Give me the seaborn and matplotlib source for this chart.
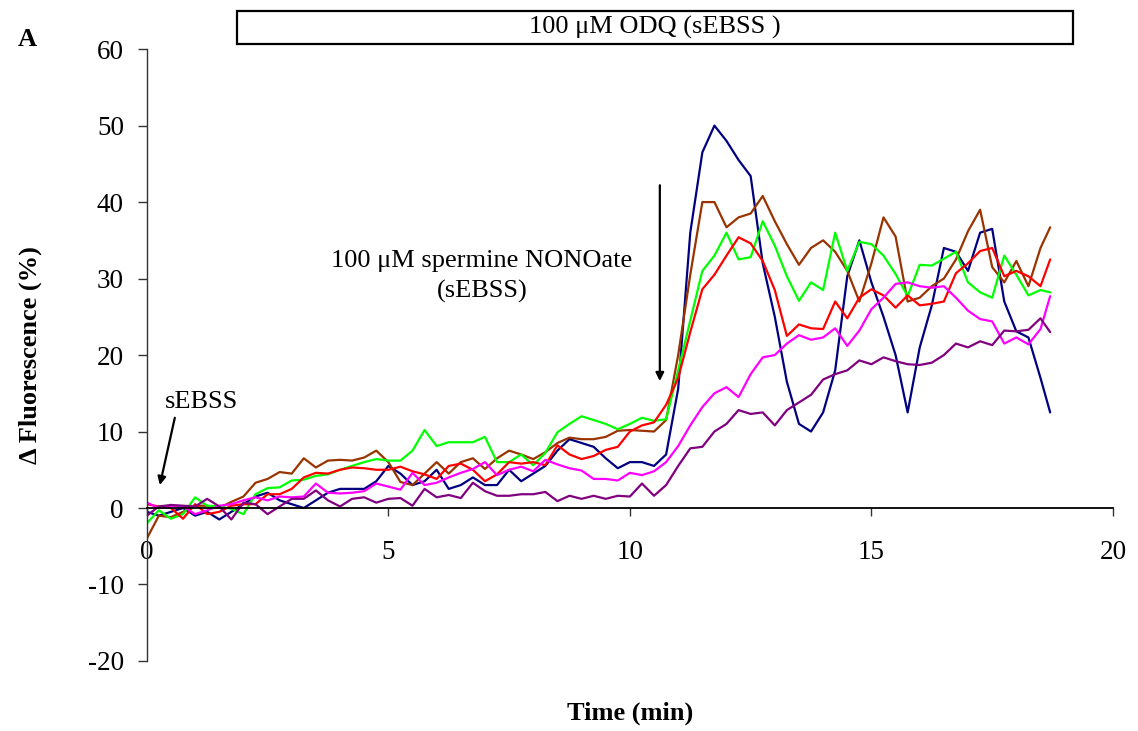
import numpy as np
import pandas as pd
import matplotlib
matplotlib.use("Agg")
import matplotlib.pyplot as plt
from matplotlib.patches import Rectangle
import seaborn as sns

# ---- data ----
time_min = np.append(np.arange(0, 18.51, 0.25), 18.7)

navy = [-0.5, -1, -0.5, 0, -1, -0.5, -1.5, -0.5, 0.5, 1.5,
        2, 1, 0.5, 0, 1, 2, 2.5, 2.5, 2.5, 3.5,
        5.5, 4.5, 3, 3.5, 5, 2.5, 3, 4, 3, 3,
        5, 3.5, 4.5, 5.5, 7.5, 9, 8.5, 8, 6.5, 5.2,
        6, 6, 5.5, 7, 15.6, 36, 46.5, 50, 48, 45.5,
        43.4, 32, 25, 16.5, 11, 10, 12.5, 18, 30.3, 35,
        29.5, 25, 20, 12.5, 21, 26.5, 34, 33.5, 31, 36,
        36.5, 27, 23.1, 22.3, 17, 12.5]
brown = [-4, -1, -1.2, -0.5, 0.3, 0.3, 0, 0.8, 1.5, 3.3,
         3.8, 4.7, 4.5, 6.5, 5.3, 6.2, 6.3, 6.2, 6.6, 7.5,
         6, 3.4, 3, 4.5, 6, 4.5, 6, 6.5, 5.1, 6.5,
         7.5, 7, 6.4, 7.3, 8.5, 9.2, 9, 9, 9.3, 10.1,
         10.2, 10.1, 10, 11.5, 20, 30.5, 40, 40, 36.7, 38,
         38.5, 40.8, 37.5, 34.5, 31.8, 34, 35, 33.5, 31, 27,
         32, 38, 35.5, 27, 27.5, 29, 30, 32.5, 36.2, 39,
         31.5, 29.5, 32.3, 29, 34, 36.7]
green = [-2, -0.3, -1.4, -0.8, 1.4, 0.3, 0.2, -0.1, -0.8, 1.8,
         2.6, 2.7, 3.6, 3.7, 4.2, 4.4, 5, 5.5, 6, 6.4,
         6.2, 6.2, 7.5, 10.2, 8.1, 8.6, 8.6, 8.6, 9.3, 6,
         6, 7, 5.6, 7.2, 9.9, 11, 12, 11.5, 11, 10.3,
         11, 11.8, 11.4, 11.6, 18, 24.5, 31, 33, 36, 32.5,
         32.8, 37.5, 34.3, 30.3, 27.1, 29.5, 28.5, 36, 31, 34.8,
         34.5, 33, 30.6, 27.7, 31.8, 31.7, 32.6, 33.5, 29.5, 28.2,
         27.5, 33, 30.5, 27.8, 28.5, 28.2]
red = [0.5, 0.2, 0, -1.4, 0.5, -0.8, -0.5, 0.3, 0.5, 0.5,
       1.8, 1.8, 2.5, 4, 4.6, 4.5, 5, 5.3, 5.2, 5,
       5, 5.4, 4.8, 4.4, 3.8, 5.5, 5.8, 5, 3.5, 4.4,
       6, 5.8, 6, 5.6, 8.2, 7, 6.4, 6.8, 7.6, 8,
       10, 10.8, 11.2, 13.5, 17, 23, 28.6, 30.5, 33, 35.4,
       34.6, 32.3, 28.5, 22.5, 24, 23.5, 23.4, 27, 24.8, 27.5,
       28.6, 27.8, 26.2, 27.8, 26.5, 26.7, 27, 30.7, 32, 33.6,
       34, 30.3, 31, 30.3, 29, 32.5]
magenta = [0.7, 0, 0.3, 0.2, -0.8, -0.3, 0.3, 0.5, 1, 1.4,
           1, 1.5, 1.4, 1.5, 3.2, 2, 1.9, 2, 2.2, 3.2,
           2.8, 2.4, 4.6, 3, 3.3, 4, 4.6, 5.1, 6.0, 4.3,
           5, 5.4, 4.8, 6.3, 5.7, 5.2, 4.9, 3.8, 3.8, 3.6,
           4.6, 4.3, 4.8, 6, 8.1, 10.8, 13.2, 15, 15.8, 14.5,
           17.5, 19.7, 20, 21.5, 22.6, 22, 22.3, 23.5, 21.2, 23.2,
           26, 27.5, 29.3, 29.5, 29, 28.8, 29, 27.5, 25.8, 24.7,
           24.4, 21.5, 22.3, 21.4, 23.4, 27.7]
purple = [-1, 0.2, 0.4, 0.3, 0.2, 1.2, 0.2, -1.5, 0.7, 0.5,
          -0.8, 0.2, 1.2, 1.2, 2.3, 1, 0.2, 1.2, 1.4, 0.7,
          1.2, 1.3, 0.3, 2.5, 1.4, 1.7, 1.3, 3.3, 2.2, 1.6,
          1.6, 1.8, 1.8, 2.1, 0.9, 1.6, 1.2, 1.6, 1.2, 1.6,
          1.5, 3.2, 1.6, 3, 5.5, 7.8, 8, 10, 11, 12.8,
          12.3, 12.5, 10.8, 12.8, 13.8, 14.8, 16.8, 17.5, 18, 19.3,
          18.8, 19.7, 19.2, 18.8, 18.7, 19, 20, 21.5, 21, 21.8,
          21.3, 23.2, 23.1, 23.3, 24.8, 23]

series_names = ["navy", "brown", "green", "red", "magenta", "purple"]
series_values = [navy, brown, green, red, magenta, purple]
series_colors = ["#000080", "#993300", "#00FF00", "#FF0000", "#FF00FF", "#800080"]

x_ticks = [0, 5, 10, 15, 20]
y_ticks = [-20, -10, 0, 10, 20, 30, 40, 50, 60]

# ---- build long-form table ----
frames = []
for name, vals in zip(series_names, series_values):
    frames.append(pd.DataFrame({"time": time_min, "value": vals, "series": name}))
df = pd.concat(frames, ignore_index=True)

sns.set_style("white")
plt.rcParams["font.family"] = ["Liberation Serif", "DejaVu Serif"]
plt.rcParams["text.color"] = "black"
plt.rcParams["axes.labelcolor"] = "black"

fig = plt.figure(figsize=(11.38, 7.31), dpi=100)
ax = fig.add_axes([0.129, 0.0958, 0.849, 0.837])

sns.lineplot(data=df, x="time", y="value", hue="series", hue_order=series_names,
             palette=dict(zip(series_names, series_colors)), estimator=None,
             sort=False, legend=False, linewidth=1.6, ax=ax)

ax.set_xlim(0, 20)
ax.set_ylim(-20, 60)
ax.set_xticks(x_ticks)
ax.set_yticks(y_ticks)
ax.set_xticklabels([str(v) for v in x_ticks])
ax.set_yticklabels([str(v) for v in y_ticks])

for s in ["top", "right"]:
    ax.spines[s].set_visible(False)
ax.spines["bottom"].set_position(("data", 0))
ax.spines["bottom"].set_color("black")
ax.spines["bottom"].set_linewidth(1.3)
ax.spines["left"].set_color("#333333")
ax.spines["left"].set_linewidth(1.0)

ax.tick_params(axis="x", direction="out", length=6, width=1, colors="#333333",
               labelcolor="black", labelsize=19.5, pad=17, bottom=True)
ax.tick_params(axis="y", direction="out", length=6.5, width=1, colors="#333333",
               labelcolor="black", labelsize=19.5, pad=10, left=True)
ax.grid(False)

ax.set_xlabel("Time (min)", fontsize=19, fontweight="bold", color="black")
ax.xaxis.set_label_coords(0.5, -0.067)
ax.set_ylabel("\u0394 Fluorescence (%)", fontsize=19, fontweight="bold", color="black")
ax.yaxis.set_label_coords(-0.108, 0.5)

# panel letter
fig.text(18 / 1138, 1 - 40 / 731, "A", fontsize=19, fontweight="bold",
         ha="left", va="center", color="black")

# ODQ bar
rect = Rectangle((1.86, 60.65), 19.17 - 1.86, 64.97 - 60.65, fill=False,
                 edgecolor="black", linewidth=1.6, clip_on=False,
                 transform=ax.transData)
ax.add_patch(rect)
ax.text((1.86 + 19.17) / 2, 62.8, "100 \u03bcM ODQ (sEBSS )", fontsize=19,
        ha="center", va="center", clip_on=False, color="black")

# spermine NONOate annotation
ax.text(6.94, 30.3, "100 \u03bcM spermine NONOate\n(sEBSS)", fontsize=19,
        ha="center", va="center", linespacing=1.45, color="black")
ax.annotate("", xy=(10.62, 16.6), xytext=(10.62, 42.2),
            arrowprops=dict(arrowstyle="-|>", color="black", lw=1.6,
                            mutation_scale=12, shrinkA=0, shrinkB=0))

# sEBSS annotation
ax.text(1.14, 13.9, "sEBSS", fontsize=19, ha="center", va="center", color="black")
ax.annotate("", xy=(0.27, 3.0), xytext=(0.58, 11.8),
            arrowprops=dict(arrowstyle="-|>", color="black", lw=1.6,
                            mutation_scale=12, shrinkA=0, shrinkB=0))

fig.savefig("out.png", dpi=100)
